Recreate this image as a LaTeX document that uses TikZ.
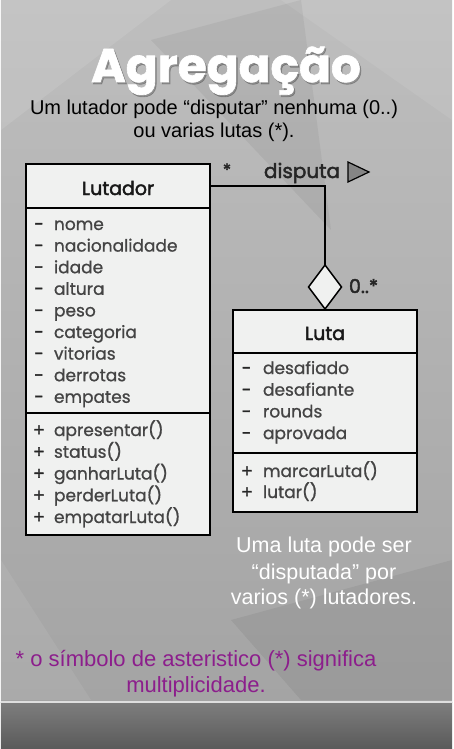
\documentclass[tikz,border=0pt]{standalone}
\usepackage{fontspec}
\setmainfont{Liberation Sans}
\newfontfamily\umlfont{Poppins}[FakeBold=0.9]
\newfontfamily\umlforte{Poppins}[FakeBold=2.2]
\newfontfamily\titulofont{Poppins}[BoldFeatures={FakeBold=1.3}]
\usetikzlibrary{shapes.geometric,positioning}

\definecolor{fundoTopo}{HTML}{BEBEBE}
\definecolor{fundoBase}{HTML}{A4A4A4}
\definecolor{faixaTopo}{HTML}{7E7E7E}
\definecolor{faixaBase}{HTML}{5A5A5A}
\definecolor{fundoCaixa}{HTML}{F0F1F0}
\definecolor{textoUML}{HTML}{444444}
\definecolor{cinzaSeta}{HTML}{858585}
\definecolor{roxo}{HTML}{8C1E8C}

\begin{document}
\begin{tikzpicture}[x=1pt,y=-1pt,
  every node/.style={inner sep=0pt,outer sep=0pt},
  caixa/.style={draw=black,line width=1.5pt,fill=fundoCaixa,
    minimum width=184pt,anchor=north west},
  membro/.style={anchor=base west,font=\umlfont\fontsize{17}{17}\selectfont,text=textoUML},
  sinal/.style={anchor=base,font=\umlforte\fontsize{17}{17}\selectfont,text=black!85},
  nomeClasse/.style={anchor=base,font=\umlforte\fontsize{19}{19}\selectfont,text=black!90},
  nota/.style={anchor=base,font=\fontsize{19.5}{19.5}\selectfont}]

  % fundo
  \shade[top color=fundoTopo,bottom color=fundoBase] (0,0) rectangle (451,702);
  \fill[white,opacity=0.10] (0,0) -- (170,0) -- (0,130) -- cycle;
  \fill[white,opacity=0.08] (280,0) -- (451,0) -- (451,120) -- cycle;
  \fill[black,opacity=0.05] (150,40) -- (300,0) -- (330,230) -- cycle;
  \fill[white,opacity=0.07] (0,560) -- (90,700) -- (0,700) -- cycle;
  \fill[black,opacity=0.06] (230,620) -- (451,560) -- (451,700) -- (300,700) -- cycle;
  \shade[top color=faixaTopo,bottom color=faixaBase] (0,702) rectangle (451,749);
  \draw[white!75!gray,line width=2pt] (0,702) -- (451,702);
  \useasboundingbox (0,0) rectangle (451,749);

  % titulo e notas
  \node[anchor=base,font=\titulofont\bfseries\fontsize{47}{47}\selectfont,text=black,opacity=0.22]
    (tituloSombra) at (226.5,84) {Agregação};
  \node[anchor=base,font=\titulofont\bfseries\fontsize{47}{47}\selectfont,text=white]
    (titulo) at (225,82) {Agregação};
  \node[nota,font=\fontsize{20}{20}\selectfont] (sub1) at (213,115) {Um lutador pode “disputar” nenhuma (0..)};
  \node[nota,font=\fontsize{20}{20}\selectfont] (sub2) at (213,138) {ou varias lutas (*).};
  \node[nota,font=\fontsize{21.5}{21.5}\selectfont,text=white] (obs1) at (323,552) {Uma luta pode ser};
  \node[nota,font=\fontsize{21.5}{21.5}\selectfont,text=white] (obs2) at (323,579) {“disputada” por};
  \node[nota,font=\fontsize{21.5}{21.5}\selectfont,text=white] (obs3) at (323,604) {varios (*) lutadores.};
  \node[nota,font=\fontsize{22}{22}\selectfont,text=roxo] (mult1) at (195,666) {* o símbolo de asteristico (*) significa};
  \node[nota,font=\fontsize{22}{22}\selectfont,text=roxo] (mult2) at (195,692) {multiplicidade.};

  % classe Lutador
  \node[caixa,minimum height=44pt] (lutHead) at (25,164) {};
  \node[caixa,minimum height=205pt] (lutAtr) at (25,208) {};
  \node[caixa,minimum height=122pt] (lutMet) at (25,413) {};
  \node[nomeClasse] (lutNome) at (117,195) {Lutador};
  \foreach \txt [count=\i from 0] in {nome,nacionalidade,idade,altura,peso,
      categoria,vitorias,derrotas,empates} {
    \node[sinal] (lutS\i) at (38,230+21.6*\i) {-};
    \node[membro] (lutA\i) at (53,230+21.6*\i) {\txt};
  }
  \foreach \txt [count=\i from 0] in {apresentar(),status(),ganharLuta(),
      perderLuta(),empatarLuta()} {
    \node[sinal] (lutP\i) at (38,436+21.75*\i) {+};
    \node[membro] (lutM\i) at (53,436+21.75*\i) {\txt};
  }

  % classe Luta
  \node[caixa,minimum height=43pt] (lutaHead) at (232,310) {};
  \node[caixa,minimum height=100pt] (lutaAtr) at (232,353) {};
  \node[caixa,minimum height=59pt] (lutaMet) at (232,453) {};
  \node[nomeClasse] (lutaNome) at (324,340) {Luta};
  \foreach \txt [count=\i from 0] in {desafiado,desafiante,rounds,aprovada} {
    \node[sinal] (lutaS\i) at (245.5,374+21.7*\i) {-};
    \node[membro] (lutaA\i) at (262,374+21.7*\i) {\txt};
  }
  \foreach \txt [count=\i from 0] in {marcarLuta(),lutar()} {
    \node[sinal] (lutaP\i) at (246,477+21*\i) {+};
    \node[membro] (lutaM\i) at (262,477+21*\i) {\txt};
  }

  % agregacao
  \node[diamond,draw=black,line width=1.5pt,fill=fundoCaixa,minimum width=33pt,
    minimum height=44pt,above=1pt of lutaHead] (dia) {};
  \draw[line width=1.5pt] (lutHead.east) -| (dia.north);
  \node[sinal] (multLut) at (226,176) {*};
  \node[membro,font=\umlforte\fontsize{20}{20}\selectfont,text=black!85] (rotulo) at (263,178) {disputa};
  \draw[fill=cinzaSeta,line width=1.2pt,line join=miter] (347,162) -- (368,172) -- (347,182) -- cycle;
  \node[membro,font=\umlforte\fontsize{19}{19}\selectfont,text=black!85] (multLuta) at (348,293) {0..*};
\end{tikzpicture}
\end{document}
